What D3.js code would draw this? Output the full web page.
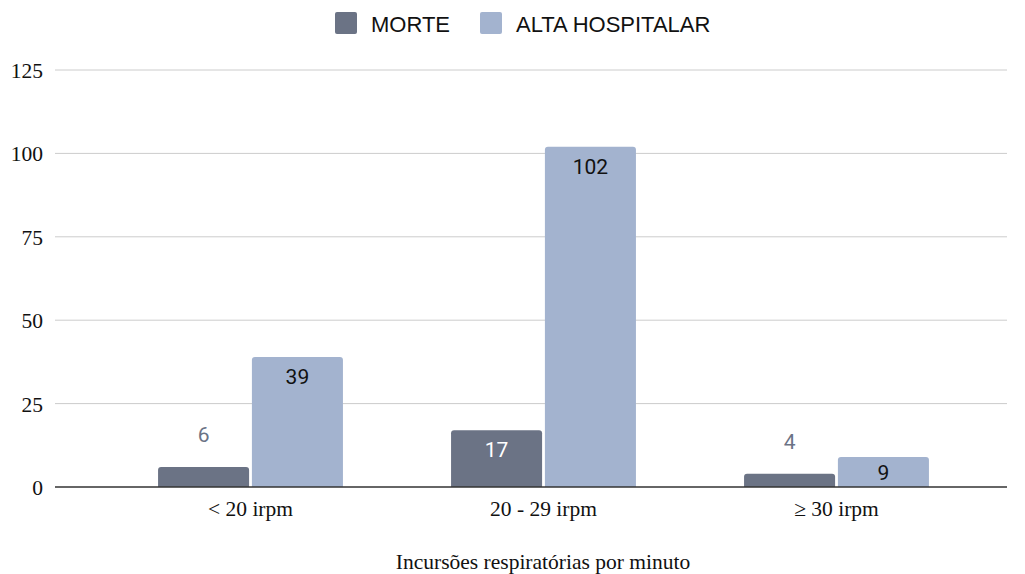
<!DOCTYPE html>
<html>
<head>
<meta charset="utf-8">
<script src="https://cdn.jsdelivr.net/npm/d3@7"></script>
<style>
  body { margin: 0; background: #fff; }
  .tick text { font-family: "Liberation Serif", "Times New Roman", serif; font-size: 21.5px; fill: #111; }
</style>
</head>
<body>
<div id="wrapper"></div>
<script>
// data
const categories = ["< 20 irpm", "20 - 29 irpm", "≥ 30 irpm"];
const seriesNames = ["MORTE", "ALTA HOSPITALAR"];
const morte = [6, 17, 4];
const alta = [39, 102, 9];
const yTicks = [0, 25, 50, 75, 100, 125];
const xTitle = "Incursões respiratórias por minuto";
const colors = ["#6b7385", "#a3b3cf"];
const labelColors = { inside: ["#ffffff", "#111111"], outside: ["#6b7385", "#6b7385"] };

const rows = categories.map((c, i) => ({ cat: c, values: [morte[i], alta[i]] }));

const width = 1025, height = 574;
const svg = d3.select("#wrapper").append("svg")
  .attr("width", width).attr("height", height);

// scales
const x0 = d3.scaleBand().domain(categories).range([104, 983]).paddingInner(0.369).paddingOuter(0.1845);
const x1 = d3.scaleBand().domain(seriesNames).range([0, x0.bandwidth()]).paddingInner(0.03);
const y = d3.scaleLinear().domain([0, 125]).range([487, 70]);

// gridlines
svg.append("g").selectAll("line")
  .data(yTicks.filter(d => d > 0))
  .join("line")
  .attr("x1", 55).attr("x2", 1007)
  .attr("y1", d => y(d)).attr("y2", d => y(d))
  .attr("stroke", "#cccccc").attr("stroke-width", 1);

// y axis labels
const yAxis = svg.append("g")
  .attr("transform", "translate(43,0)")
  .call(d3.axisLeft(y).tickValues(yTicks).tickSize(0).tickPadding(0));
yAxis.select(".domain").remove();
yAxis.selectAll(".tick text").attr("dy", "0.35em");

// bars
const roundedTop = (x, yTop, w, h, r) => {
  r = Math.min(r, h, w / 2);
  const yb = yTop + h;
  return `M${x},${yb}V${yTop + r}Q${x},${yTop} ${x + r},${yTop}H${x + w - r}Q${x + w},${yTop} ${x + w},${yTop + r}V${yb}Z`;
};

const groups = svg.append("g").selectAll("g")
  .data(rows)
  .join("g")
  .attr("transform", d => `translate(${x0(d.cat)},0)`);

const bars = groups.selectAll("g")
  .data(d => d.values.map((v, i) => ({ name: seriesNames[i], i, v })))
  .join("g");

bars.append("path")
  .attr("d", d => roundedTop(x1(d.name), y(d.v), x1.bandwidth(), y(0) - y(d.v), 3))
  .attr("fill", d => colors[d.i]);

bars.append("text")
  .attr("x", d => x1(d.name) + x1.bandwidth() / 2)
  .attr("y", d => {
    const h = y(0) - y(d.v);
    return h >= 28 ? y(d.v) + Math.min(27, h / 2 + 8) : y(d.v) - 25;
  })
  .attr("text-anchor", "middle")
  .attr("font-family", "Roboto, sans-serif")
  .attr("font-size", 21)
  .attr("fill", d => (y(0) - y(d.v)) >= 28 ? labelColors.inside[d.i] : labelColors.outside[d.i])
  .text(d => d.v);

// x axis baseline
svg.append("line")
  .attr("x1", 55).attr("x2", 1007)
  .attr("y1", y(0)).attr("y2", y(0))
  .attr("stroke", "#333").attr("stroke-width", 1.5);

const xAxis = svg.append("g")
  .attr("transform", `translate(0,${y(0)})`)
  .call(d3.axisBottom(x0).tickSize(0).tickPadding(14));
xAxis.select(".domain").remove();

svg.append("text")
  .attr("x", 543).attr("y", 569)
  .attr("text-anchor", "middle")
  .attr("font-family", "Liberation Serif, serif")
  .attr("font-size", 21.5)
  .attr("fill", "#111")
  .text(xTitle);

// legend
const legendX = [335, 480];
const legend = svg.append("g").selectAll("g")
  .data(seriesNames)
  .join("g")
  .attr("transform", (d, i) => `translate(${legendX[i]},12)`);
legend.append("rect")
  .attr("width", 22).attr("height", 22).attr("rx", 2)
  .attr("fill", (d, i) => colors[i]);
legend.append("text")
  .attr("x", 36).attr("y", 20)
  .attr("font-family", "Liberation Sans, Arial, sans-serif")
  .attr("font-size", 22)
  .attr("fill", "#111")
  .text(d => d);
</script>
</body>
</html>
